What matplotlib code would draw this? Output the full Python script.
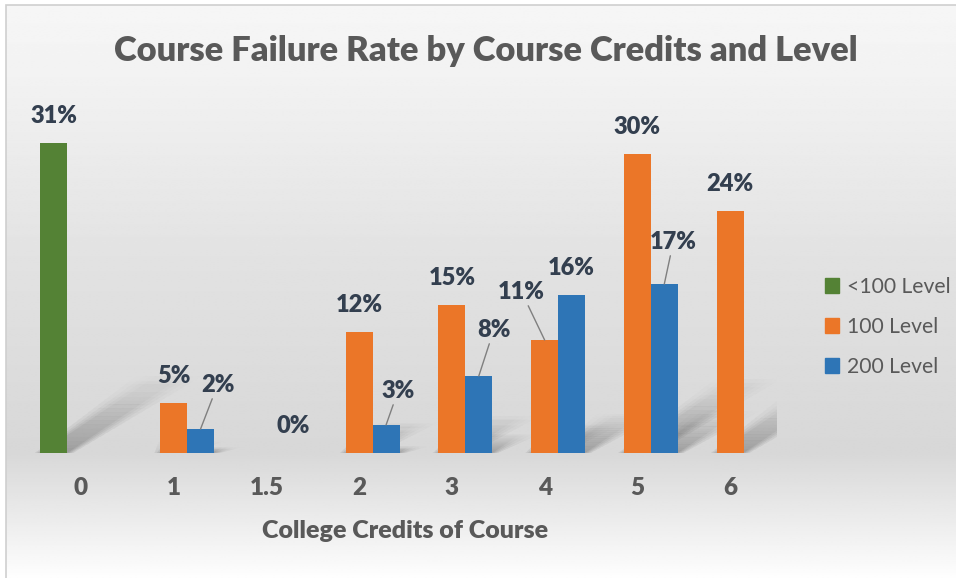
import numpy as np
import matplotlib
matplotlib.use("Agg")
import matplotlib.pyplot as plt
from matplotlib.patches import Patch, Rectangle, Polygon

# data (failure rate in %)
credits = ["0", "1", "1.5", "2", "3", "4", "5", "6"]
levels = ["<100 Level", "100 Level", "200 Level"]
below_100 = [31.0, np.nan, np.nan, np.nan, np.nan, np.nan, np.nan, np.nan]
level_100 = [np.nan, 5.0, np.nan, 12.1, 14.8, 11.3, 29.9, 24.2]
level_200 = [np.nan, 2.4, 0.0, 2.8, 7.7, 15.8, 16.9, np.nan]
colors = ["#548235", "#eb7628", "#2e75b6"]

# labels pulled away from their bar with a leader line: (series, category) -> offset in px
leaders = {(2, 1): (17, 44), (2, 3): (12, 34), (2, 4): (15, 46),
           (1, 5): (-23, 48), (2, 6): (9, 42)}

FONT = "Lato"
HEAVY = "heavy"
W, H = 956, 578
fig = plt.figure(figsize=(W / 100, H / 100), dpi=100)
fig.patch.set_facecolor("white")

# background: grey gradient inside a thin frame
bg = fig.add_axes([0, 0, 1, 1], zorder=-5)
bg.set_xlim(0, 1)
bg.set_ylim(0, 1)
bg.axis("off")
stops = [0.0, 0.12, 0.45, 0.78, 0.9, 1.0]
vals = [0.965, 0.95, 0.885, 0.845, 0.925, 0.995]
grad = np.interp(np.linspace(0, 1, 300), stops, vals)[:, None]
bg.imshow(np.repeat(grad, 2, axis=1), cmap="gray", vmin=0, vmax=1, aspect="auto",
          extent=[6 / W, 1, 0, 1 - 5 / H], origin="upper", interpolation="bilinear")
bg.add_patch(Rectangle((6 / W, -0.1), 1, 1.1 - 5 / H, fill=False,
                       edgecolor="#cfcfcf", lw=1.2))

ax = fig.add_axes([34.5 / W, 125 / H, 742 / W, 358 / H])
ax.patch.set_alpha(0)
ax.set_xlim(-0.5, 7.5)
ax.set_ylim(0, 35.8)

x = np.arange(len(credits))
w = 27 / 93
all_series = [below_100, level_100, level_200]

for s, vals_s in enumerate(all_series):
    xs = x + (s - 1) * w
    vals_s = np.array(vals_s)
    ok = ~np.isnan(vals_s)
    ax.bar(xs[ok], vals_s[ok], width=w, color=colors[s], zorder=3, label=levels[s])

    # soft perspective shadow behind each bar
    for xi, h in zip(xs[ok], vals_s[ok]):
        if h <= 0:
            continue
        dx, dy = 0.042 * h, 0.26 * h
        n = 20
        for k in range(n):
            t0, t1 = k / n, (k + 1) / n
            a = 0.07 * (1 - t0) ** 1.2
            for grow in (0.0, 0.05, 0.1, 0.16):
                g = grow * (0.4 + t0)
                x0, x1 = xi - w / 2 - g, xi + w / 2 + g
                poly = Polygon([(x0 + t0 * dx, t0 * dy), (x1 + t0 * dx, t0 * dy),
                                (x1 + t1 * dx, t1 * dy), (x0 + t1 * dx, t1 * dy)],
                               closed=True, facecolor="black", edgecolor="none",
                               alpha=a, zorder=1)
                ax.add_patch(poly)

    # data labels
    for i in np.where(ok)[0]:
        h = vals_s[i]
        if (s, i) in leaders:
            ox, oy = leaders[(s, i)]
            arrow = dict(arrowstyle="-", color="#7f7f7f", lw=1, shrinkA=0, shrinkB=0)
        else:
            ox, oy = 0, 27
            arrow = None
        ax.annotate(f"{h:.0f}%", xy=(xs[i], h), xytext=(ox * 0.72, oy * 0.72),
                    textcoords="offset points", ha="center", va="center",
                    fontsize=17, fontweight=HEAVY, color="#333f4f",
                    family=FONT, arrowprops=arrow, zorder=5)

for sp in ax.spines.values():
    sp.set_visible(False)
ax.set_yticks([])
ax.set_xticks(x)
ax.set_xticklabels(credits, fontsize=17.5, fontweight=HEAVY, color="#595959", family=FONT)
ax.tick_params(axis="x", length=0, pad=17)
ax.set_xlabel("College Credits of Course", fontsize=18, fontweight=HEAVY,
              color="#595959", family=FONT)
ax.xaxis.set_label_coords(0.5, -0.218)
ax.xaxis.label.set_va("center")

fig.text(486 / W, 1 - 51 / H, "Course Failure Rate by Course Credits and Level",
         ha="center", va="center", fontsize=24.8, fontweight=HEAVY, color="#595959",
         family=FONT)

handles = [Patch(color=c) for c in colors]
fig.legend(handles, levels, loc="center left", bbox_to_anchor=(814 / W, 1 - 327 / H),
           frameon=False, handlelength=0.7, handleheight=0.7,
           handletextpad=0.35, labelspacing=0.95, borderpad=0,
           prop={"family": FONT, "size": 15.2}, labelcolor="#595959")

fig.savefig("out.png", dpi=100)
